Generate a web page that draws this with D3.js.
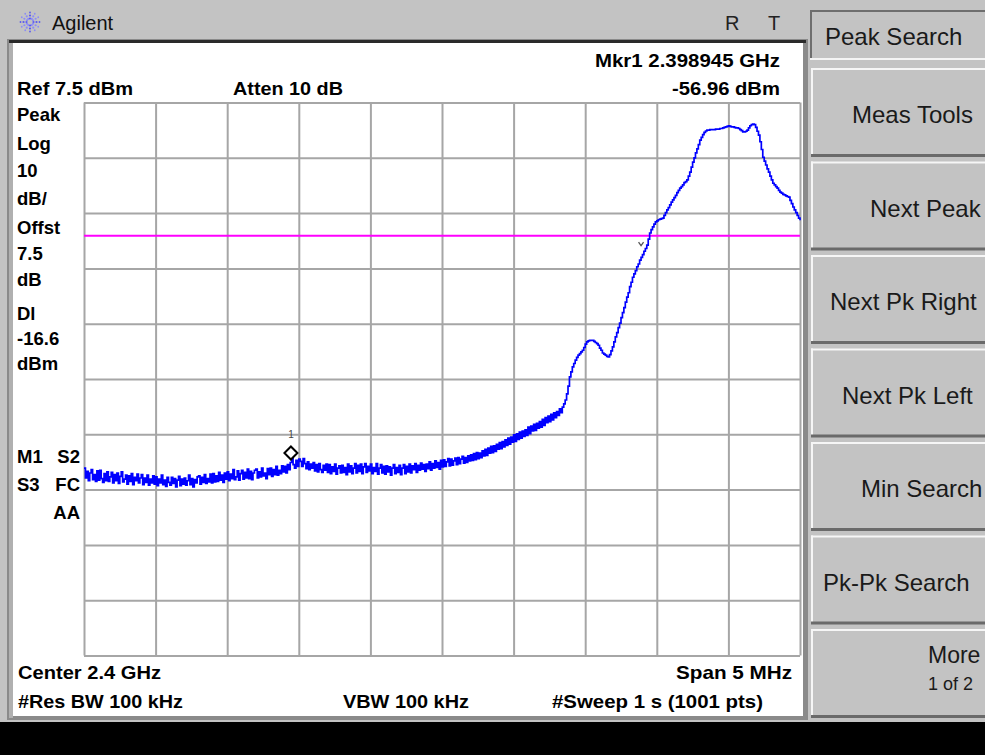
<!DOCTYPE html>
<html>
<head>
<meta charset="utf-8">
<script src="https://cdn.jsdelivr.net/npm/d3@7/dist/d3.min.js"></script>
<style>
  html, body { margin: 0; padding: 0; background: #c3c3c3; }
  svg { display: block; }
  text { font-family: "Liberation Sans", Arial, sans-serif; }
</style>
</head>
<body>
<svg id="chart" width="985" height="755"></svg>
<script>
// ---------------- DATA ----------------
const startMHz = 2397.5;          // Center 2.4 GHz, Span 5 MHz
const stopMHz = 2402.5;
const stepMHz = 0.01;             // trace point spacing
const refLevel = 7.5;             // Ref 7.5 dBm
const bottomLevel = -92.5;        // 10 dB/div, 10 divisions
const gridFreqs = [2397.5, 2398, 2398.5, 2399, 2399.5, 2400, 2400.5, 2401, 2401.5, 2402, 2402.5];
const gridLevels = [7.5, -2.5, -12.5, -22.5, -32.5, -42.5, -52.5, -62.5, -72.5, -82.5, -92.5];
const displayLineDbm = -16.6;
const markerFreqMHz = 2398.945;
const markerDbm = -56.96;
const chevronFreqMHz = 2401.39;
const chevronDbm = -18.1;

const traceDbm = [
-58.6,-60.4,-59.2,-60.9,-59.5,-58.9,-60.7,-59.8,-61.0,-59.1,
-60.8,-59.0,-60.5,-61.2,-59.6,-60.9,-59.3,-61.0,-60.2,-59.4,
-61.3,-59.8,-60.9,-59.5,-61.4,-60.1,-59.3,-61.1,-60.6,-59.9,
-61.5,-60.0,-61.0,-59.6,-61.6,-60.3,-60.9,-59.7,-61.3,-60.4,
-59.8,-61.6,-60.4,-61.2,-59.9,-61.7,-60.6,-61.3,-60.0,-61.5,
-60.2,-61.8,-60.6,-61.3,-59.9,-61.6,-60.8,-61.9,-60.3,-61.2,
-61.7,-60.3,-61.4,-60.5,-62.0,-60.8,-60.1,-61.8,-60.6,-61.5,
-60.4,-61.7,-60.9,-59.9,-61.6,-60.5,-62.0,-60.7,-61.3,-60.2,
-60.0,-61.5,-60.3,-61.2,-59.8,-61.4,-60.5,-61.1,-59.7,-61.3,
-59.6,-61.1,-60.0,-61.0,-59.4,-60.8,-59.9,-61.2,-59.5,-60.6,
-59.3,-60.9,-59.7,-60.5,-58.9,-60.7,-60.2,-59.1,-60.8,-59.6,
-59.0,-60.6,-59.4,-60.4,-58.8,-60.5,-59.2,-60.7,-59.5,-59.0,
-58.8,-60.4,-59.3,-60.2,-58.6,-60.0,-59.5,-60.5,-58.7,-59.8,
-58.6,-60.1,-58.9,-59.8,-58.3,-59.9,-59.0,-59.6,-58.2,-59.3,
-58.3,-59.5,-58.0,-58.9,-57.6,-56.96,-58.0,-58.6,-57.2,-58.3,
-57.0,-57.4,-58.3,-56.9,-57.8,-58.7,-57.5,-58.9,-57.9,-58.6,
-57.6,-59.1,-58.0,-59.3,-57.8,-58.9,-59.4,-58.1,-59.0,-57.9,
-59.4,-58.0,-59.6,-58.4,-59.2,-57.9,-59.7,-58.6,-58.2,-59.5,
-58.1,-59.4,-58.5,-59.8,-57.9,-59.3,-58.2,-59.6,-58.6,-57.8,
-59.5,-58.1,-59.2,-57.9,-59.6,-58.4,-57.8,-59.4,-58.3,-59.1,
-57.9,-59.6,-58.5,-59.2,-57.8,-59.7,-58.6,-58.0,-59.5,-58.3,
-59.7,-58.2,-59.3,-58.4,-59.9,-58.6,-58.0,-59.6,-58.5,-59.4,
-58.1,-59.8,-58.6,-58.0,-59.6,-58.3,-59.3,-57.9,-59.5,-58.2,
-58.9,-57.8,-59.4,-58.1,-59.0,-57.7,-58.8,-58.0,-59.2,-57.9,
-58.7,-57.5,-59.0,-57.8,-58.6,-57.3,-58.5,-57.6,-58.8,-57.2,
-58.4,-57.1,-58.3,-57.5,-56.9,-58.2,-57.0,-58.1,-57.3,-56.8,
-58.0,-56.7,-57.8,-57.0,-56.5,-57.7,-56.7,-57.6,-56.4,-57.3,
-56.2,-57.2,-56.0,-57.1,-55.8,-56.9,-55.9,-56.7,-55.5,-56.4,
-55.2,-56.3,-55.0,-55.9,-54.7,-55.8,-54.6,-55.6,-54.3,-55.2,
-54.0,-55.1,-53.8,-54.8,-53.5,-54.5,-53.2,-54.3,-53.0,-53.9,
-52.6,-53.8,-52.4,-53.4,-52.1,-53.2,-51.9,-52.9,-51.7,-52.7,
-51.2,-52.4,-51.0,-51.9,-50.7,-51.8,-50.5,-51.4,-50.2,-51.2,
-49.8,-50.9,-49.5,-50.4,-49.2,-50.2,-48.9,-49.9,-48.6,-49.5,
-48.4,-49.1,-47.9,-48.6,-47.6,-47.0,-46.3,-45.2,-43.8,-42.1,
-41.2,-40.3,-39.7,-39.1,-38.6,-38.2,-37.9,-37.6,-37.3,-36.8,
-36.2,-35.8,-35.6,-35.5,-35.5,-35.5,-35.7,-35.9,-36.1,-36.4,
-36.9,-37.3,-37.8,-38.0,-38.2,-38.4,-38.5,-38.1,-37.4,-36.7,
-35.8,-34.9,-34.1,-33.2,-32.4,-31.4,-30.5,-29.6,-28.6,-27.7,
-26.9,-25.8,-25.0,-24.1,-23.5,-22.9,-22.2,-21.7,-21.0,-20.5,
-20.0,-19.4,-18.9,-18.3,-17.2,-16.1,-15.5,-15.0,-14.5,-14.1,
-13.9,-13.7,-13.6,-13.5,-13.4,-12.9,-12.4,-11.9,-11.5,-11.0,
-10.5,-10.1,-9.7,-9.3,-8.8,-8.4,-8.0,-7.7,-7.4,-7.0,
-6.8,-6.5,-5.8,-5.1,-4.2,-3.3,-2.5,-1.6,-0.9,-0.1,
0.7,1.2,1.7,2.1,2.35,2.5,2.5,2.6,2.6,2.6,
2.6,2.7,2.7,2.7,2.8,2.8,2.9,3.0,3.1,3.2,
3.3,3.2,3.1,3.1,3.0,2.9,2.9,2.8,2.6,2.4,
2.2,2.2,2.3,2.5,2.9,3.3,3.5,3.6,3.5,3.0,
2.3,1.6,0.4,-1.0,-2.4,-3.1,-3.8,-4.5,-5.1,-5.8,
-6.5,-7.1,-7.4,-7.7,-8.0,-8.4,-8.7,-8.9,-9.1,-9.2,
-9.4,-9.5,-9.6,-10.2,-10.8,-11.4,-11.9,-12.4,-12.9,-13.4,-13.8
];

const leftLabels = ["Peak","Log","10","dB/","Offst","7.5","dB","Dl","-16.6","dBm"];
const leftLabelY = [121, 150, 177, 205, 234, 260, 286, 320, 345, 370];
const statusLeft = ["M1","S3"];
const statusRight = ["S2","FC","AA"];
const softkeys = ["Meas Tools","Next Peak","Next Pk Right","Next Pk Left","Min Search","Pk-Pk Search","More"];
const softkeyX = [852, 870, 830, 842, 861, 823, 928];

// ---------------- DRAW ----------------
const svg = d3.select("#chart");
const plot = {left: 84, right: 800, top: 102.5, bottom: 655.5};
const x = d3.scaleLinear().domain([startMHz, stopMHz]).range([plot.left, plot.right]);
const y = d3.scaleLinear().domain([bottomLevel, refLevel]).range([plot.bottom, plot.top]);

// background
svg.append("rect").attr("width", 985).attr("height", 755).attr("fill", "#c3c3c3");
// screen frame
svg.append("rect").attr("x", 7).attr("y", 39).attr("width", 801).attr("height", 681).attr("fill", "#8a8a8a");
svg.append("rect").attr("x", 9).attr("y", 40).attr("width", 797).attr("height", 3).attr("fill", "#2a2a2a");
svg.append("rect").attr("x", 9).attr("y", 43).attr("width", 4).attr("height", 675).attr("fill", "#b0b0b0");
svg.append("rect").attr("x", 13).attr("y", 43).attr("width", 790).attr("height", 673).attr("fill", "#ffffff");
// bottom black bar
svg.append("rect").attr("x", 0).attr("y", 722).attr("width", 985).attr("height", 33).attr("fill", "#000");

// title bar
const logo = svg.append("g").attr("transform", "translate(30,22)");
d3.range(12).forEach(k => {
  const a = k * Math.PI / 6;
  [3.5, 6.5, 9.5].forEach((r, j) => {
    logo.append("circle").attr("cx", r * Math.cos(a)).attr("cy", r * Math.sin(a))
      .attr("r", j === 2 ? 0.9 : 1.1).attr("fill", k % 3 === 0 ? "#5a5af0" : "#8c8cf5");
  });
});
svg.append("text").attr("x", 52).attr("y", 30).attr("font-size", 20).attr("fill", "#111").text("Agilent");
svg.append("text").attr("x", 725).attr("y", 30).attr("font-size", 20).attr("fill", "#222").text("R");
svg.append("text").attr("x", 768).attr("y", 30).attr("font-size", 20).attr("fill", "#222").text("T");

// header annotations
function bold(t, xx, yy, len, anchor) {
  const el = svg.append("text").attr("x", xx).attr("y", yy).attr("font-size", 18.5)
    .attr("font-weight", "bold").attr("fill", "#000").attr("text-anchor", anchor || "start").text(t);
  if (len) el.attr("textLength", len).attr("lengthAdjust", "spacingAndGlyphs");
  return el;
}
bold("Mkr1  2.398945 GHz", 780, 67, 185, "end");
bold("Ref 7.5 dBm", 17, 95, 116);
bold("Atten 10 dB", 233, 95, 110);
bold("-56.96 dBm", 780, 95, 108, "end");
bold("Center 2.4 GHz", 18, 679, 143);
bold("Span 5 MHz", 792, 679, 116, "end");
bold("#Res BW 100 kHz", 18, 708, 165);
bold("VBW 100 kHz", 343, 708, 126);
bold("#Sweep 1 s (1001 pts)", 763, 708, 211, "end");

leftLabels.forEach((t, i) => bold(t, 17, leftLabelY[i]));
bold(statusLeft[0], 17, 463); bold(statusRight[0], 80, 463, null, "end");
bold(statusLeft[1], 17, 491); bold(statusRight[1], 80, 491, null, "end");
bold(statusRight[2], 80, 519, null, "end");

// grid via axes
const gridColor = "#a6a6a6";
const gx = svg.append("g").attr("transform", `translate(0,${plot.bottom})`)
  .call(d3.axisBottom(x).tickValues(gridFreqs).tickSize(-(plot.bottom - plot.top)).tickFormat(""));
const gy = svg.append("g").attr("transform", `translate(${plot.left},0)`)
  .call(d3.axisLeft(y).tickValues(gridLevels).tickSize(-(plot.right - plot.left)).tickFormat(""));
[gx, gy].forEach(g => {
  g.select(".domain").remove();
  g.selectAll(".tick line").attr("stroke", gridColor).attr("stroke-width", 2);
});

// display line
svg.append("line").attr("x1", x(startMHz)).attr("x2", x(stopMHz))
  .attr("y1", y(displayLineDbm)).attr("y2", y(displayLineDbm))
  .attr("stroke", "#ff00ff").attr("stroke-width", 2);

// trace
svg.append("clipPath").attr("id", "clip").append("rect")
  .attr("x", plot.left).attr("y", plot.top).attr("width", plot.right - plot.left + 1).attr("height", plot.bottom - plot.top);
const line = d3.line().x((d, i) => x(startMHz + i * stepMHz)).y(d => y(d)).curve(d3.curveStepAfter);
svg.append("path").datum(traceDbm).attr("d", line).attr("clip-path", "url(#clip)")
  .attr("fill", "none").attr("stroke", "#0000ff").attr("stroke-width", 1.7);

// marker
const mx = x(markerFreqMHz), my = y(markerDbm) - 6;
svg.append("path").attr("d", `M${mx},${my - 6.5}L${mx + 6.5},${my}L${mx},${my + 6.5}L${mx - 6.5},${my}Z`)
  .attr("fill", "#fff").attr("stroke", "#000").attr("stroke-width", 2);
svg.append("text").attr("x", mx).attr("y", my - 15).attr("text-anchor", "middle")
  .attr("font-size", 10).attr("fill", "#444").text("1");
// small chevron
const cx = x(chevronFreqMHz), cy = y(chevronDbm);
svg.append("path").attr("d", `M${cx - 2.5},${cy - 2}L${cx},${cy + 1.5}L${cx + 2.5},${cy - 2}`)
  .attr("fill", "none").attr("stroke", "#555").attr("stroke-width", 1.3);

// softkey panel
const panel = svg.append("g");
// title box
panel.append("rect").attr("x", 810).attr("y", 10).attr("width", 180).attr("height", 50).attr("fill", "#c3c3c3");
panel.append("rect").attr("x", 810).attr("y", 10).attr("width", 180).attr("height", 2).attr("fill", "#6e6e6e");
panel.append("rect").attr("x", 810).attr("y", 10).attr("width", 2).attr("height", 50).attr("fill", "#6e6e6e");
panel.append("rect").attr("x", 810).attr("y", 58).attr("width", 180).attr("height", 2).attr("fill", "#f4f4f4");
panel.append("text").attr("x", 825).attr("y", 45).attr("font-size", 24).attr("fill", "#1a1a1a").text("Peak Search");

softkeys.forEach((t, i) => {
  const top = 68 + i * 93.5;
  panel.append("rect").attr("x", 811).attr("y", top).attr("width", 180).attr("height", 88).attr("fill", "#c3c3c3");
  panel.append("rect").attr("x", 811).attr("y", top).attr("width", 180).attr("height", 2).attr("fill", "#f6f6f6");
  panel.append("rect").attr("x", 811).attr("y", top).attr("width", 2).attr("height", 88).attr("fill", "#f6f6f6");
  panel.append("rect").attr("x", 811).attr("y", top + 86).attr("width", 180).attr("height", 3).attr("fill", "#6a6a6a");
  if (t === "More") {
    panel.append("text").attr("x", softkeyX[i]).attr("y", top + 34).attr("font-size", 23).attr("fill", "#1a1a1a").text(t);
    panel.append("text").attr("x", 928).attr("y", top + 61).attr("font-size", 18).attr("fill", "#1a1a1a").text("1 of 2");
  } else {
    panel.append("text").attr("x", softkeyX[i]).attr("y", top + 55).attr("font-size", 24).attr("fill", "#1a1a1a").text(t);
  }
});
</script>
</body>
</html>
